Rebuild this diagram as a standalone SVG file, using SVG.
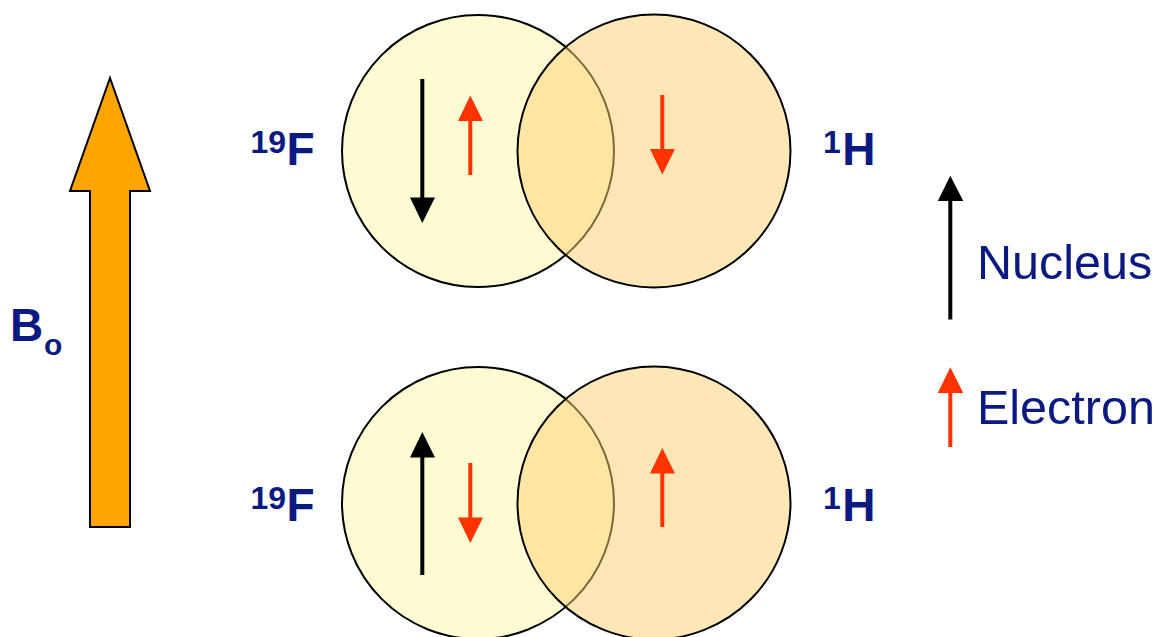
<svg xmlns="http://www.w3.org/2000/svg" width="1156" height="637" viewBox="0 0 1156 637">
<style>
.lbl{font-family:"Liberation Sans",Arial,sans-serif;fill:#0A1A80}
.b{font-weight:bold}
.c1{fill:#FFFCD3;stroke:#000;stroke-width:2}
.c2{fill:#FBD070;fill-opacity:0.5;stroke:#000;stroke-width:2}
.nuc{stroke:#000;stroke-width:4;fill:none}
.nh{fill:#000}
.ele{stroke:#FF3300;stroke-width:4;fill:none}
.eh{fill:#FF3300}
</style>
<rect width="1156" height="637" fill="#fff"/>
<g id="bo-arrow">
<polygon points="110,78 150,191 130,191 130,527 90,527 90,191 70,191" fill="#FFA500" stroke="#000" stroke-width="2" stroke-linejoin="miter"/>
<text class="lbl b" x="10" y="341" font-size="46">B</text>
<text class="lbl b" x="44" y="355" font-size="30">o</text>
</g>
<g id="top-pair">
<circle class="c1" cx="478" cy="151" r="136"/>
<circle class="c2" cx="654" cy="151" r="136.5"/>
<line class="nuc" x1="422.3" y1="79" x2="422.3" y2="199"/>
<polygon class="nh" points="410,197.5 435,197.5 422.3,223"/>
<line class="ele" x1="470.3" y1="175" x2="470.3" y2="118"/>
<polygon class="eh" points="458,121 483,121 470.3,95.5"/>
<line class="ele" x1="662.3" y1="95" x2="662.3" y2="152"/>
<polygon class="eh" points="650,149 675,149 662.3,174.5"/>
<text class="lbl b" x="250.5" y="153" font-size="32">19</text>
<text class="lbl b" x="286.5" y="165" font-size="46">F</text>
<text class="lbl b" x="823" y="152.5" font-size="32">1</text>
<text class="lbl b" x="842.3" y="165" font-size="46">H</text>
</g>
<g id="bottom-pair">
<circle class="c1" cx="478" cy="503" r="136"/>
<circle class="c2" cx="654" cy="503" r="136.5"/>
<line class="nuc" x1="422.3" y1="575" x2="422.3" y2="455"/>
<polygon class="nh" points="410,457.5 435,457.5 422.3,432"/>
<line class="ele" x1="470.3" y1="463" x2="470.3" y2="520"/>
<polygon class="eh" points="458,517.5 483,517.5 470.3,543"/>
<line class="ele" x1="662.3" y1="527" x2="662.3" y2="470"/>
<polygon class="eh" points="650,473.5 675,473.5 662.3,448"/>
<text class="lbl b" x="250.5" y="508.5" font-size="32">19</text>
<text class="lbl b" x="286.5" y="521" font-size="46">F</text>
<text class="lbl b" x="823" y="508.5" font-size="32">1</text>
<text class="lbl b" x="842.3" y="521" font-size="46">H</text>
</g>
<g id="legend">
<line class="nuc" x1="950.3" y1="319.5" x2="950.3" y2="198"/>
<polygon class="nh" points="937.8,201 963.3,201 950.3,175.7"/>
<text class="lbl" x="977" y="278.5" font-size="48.5">Nucleus</text>
<line class="ele" x1="950.3" y1="447" x2="950.3" y2="390"/>
<polygon class="eh" points="937.8,393 963.3,393 950.3,367.3"/>
<text class="lbl" x="977" y="423.5" font-size="48.5">Electron</text>
</g>
</svg>
